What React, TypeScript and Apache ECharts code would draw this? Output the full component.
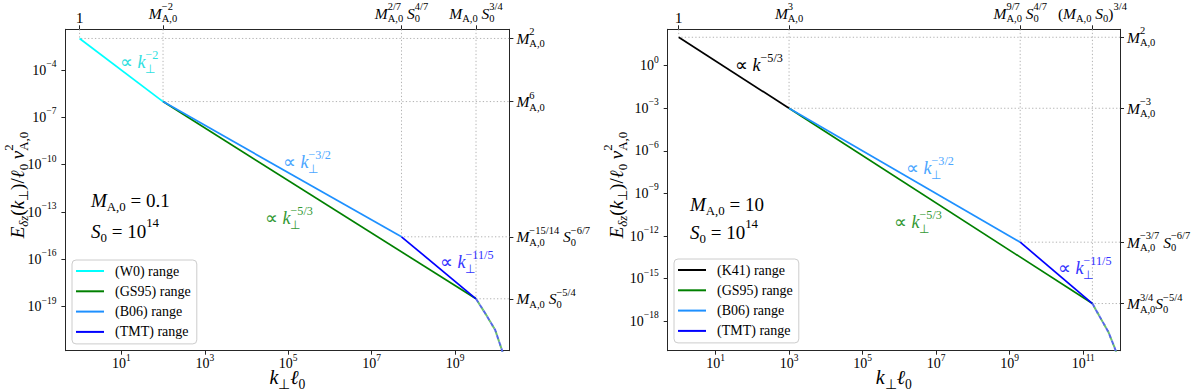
import React, { useEffect, useRef } from "react";
import * as echarts from "echarts";

const FONT = "Liberation Serif";
const AXIS_COLOR = "#262626";

// ---------------- data: log10(k⊥ℓ0), log10(E) ----------------
// Left panel: M_A,0 = 0.1, S0 = 1e14
const leftW0 = [[0, -2], [2, -6]];
const leftGS95 = [[2, -6], [9.5, -18.5]];
const leftB06 = [[2, -6], [7.714, -14.571]];
const leftTMT = [[7.714, -14.571], [9.5, -18.5]];
const leftCutoff = [[9.5, -18.5], [9.72, -19.42], [9.96, -20.48], [10.12, -21.74], [10.15, -22.05]];
const leftBreakK = [0, 2, 7.714, 9.5];
const leftBreakE = [-2, -6, -14.571, -18.5];

// Right panel: M_A,0 = 10, S0 = 1e14
const rightK41 = [[0, 2], [3, -3]];
const rightGS95 = [[3, -3], [11.25, -16.75]];
const rightB06 = [[3, -3], [9.286, -12.429]];
const rightTMT = [[9.286, -12.429], [11.25, -16.75]];
const rightCutoff = [[11.25, -16.75], [11.45, -17.68], [11.68, -18.73], [11.86, -19.9], [11.91, -20.3]];
const rightBreakK = [0, 3, 9.286, 11.25];
const rightBreakE = [2, -3, -12.429, -16.75];

// tick exponents
const leftXTicks = [1, 3, 5, 7, 9];
const leftYTicks = [-4, -7, -10, -13, -16, -19];
const rightXTicks = [1, 3, 5, 7, 9, 11];
const rightYTicks = [0, -3, -6, -9, -12, -15, -18];

const leftXRange = [-0.34, 10.3];
const leftYRange = [-21.79, -1.42];
const rightXRange = [-0.3, 12.0];
const rightYRange = [-20.07, 2.56];

type Tok = [string, string];

// tick labels at the break points (top and right axes)
const leftTopLabels: Tok[][] = [
  [["r", "1"]],
  [["i", "M"], ["spz", "−2"], ["sb", "A,0"]],
  [["i", "M"], ["spz", "2/7"], ["sb", "A,0"], ["i", " S"], ["sbz", "0"], ["sp", "4/7"]],
  [["i", "M"], ["sb", "A,0"], ["i", " S"], ["sbz", "0"], ["sp", "3/4"]],
];
const leftRightLabels: Tok[][] = [
  [["i", "M"], ["spz", "2"], ["sb", "A,0"]],
  [["i", "M"], ["spz", "6"], ["sb", "A,0"]],
  [["i", "M"], ["sbz", "A,0"], ["sp", "−15/14"], ["i", " S"], ["sbz", "0"], ["sp", "−6/7"]],
  [["i", "M"], ["sb", "A,0"], ["i", " S"], ["sbz", "0"], ["sp", "−5/4"]],
];
const rightTopLabels: Tok[][] = [
  [["r", "1"]],
  [["i", "M"], ["spz", "3"], ["sb", "A,0"]],
  [["i", "M"], ["spz", "9/7"], ["sb", "A,0"], ["i", " S"], ["sbz", "0"], ["sp", "4/7"]],
  [["r", "("], ["i", "M"], ["sb", "A,0"], ["i", " S"], ["sb", "0"], ["r", ")"], ["sp", "3/4"]],
];
const rightRightLabels: Tok[][] = [
  [["i", "M"], ["spz", "2"], ["sb", "A,0"]],
  [["i", "M"], ["spz", "−3"], ["sb", "A,0"]],
  [["i", "M"], ["sbz", "A,0"], ["sp", "−3/7"], ["i", " S"], ["sbz", "0"], ["sp", "−6/7"]],
  [["i", "M"], ["spz", "3/4"], ["sb", "A,0"], ["i", "S"], ["sbz", "0"], ["sp", "−5/4"]],
];

const leftNames = ["(W0) range", "(GS95) range", "(B06) range", "(TMT) range"];
const rightNames = ["(K41) range", "(GS95) range", "(B06) range", "(TMT) range"];

const C_W0 = "#00ffff";
const C_GS = "#008000";
const C_B06 = "#1e90ff";
const C_TMT = "#0000ff";
const C_K41 = "#000000";

// ---------------- layout ----------------
const GL = { left: 65.4, top: 29.3, width: 444, height: 321.4 };
const GR = { left: 667.7, top: 29.3, width: 452.3, height: 321.4 };

function toRich(tokens: Tok[]) {
  return tokens.map(([s, t]) => `{${s}|${t}}`).join("");
}

function richSet(size: number, color: string) {
  const small = Math.round(size * 0.68 * 10) / 10;
  const up = Math.round(size * 0.84);
  const dn = Math.round(size * 0.72);
  const base: any = { fontFamily: FONT, color, fill: color, align: "left" };
  const it: any = { ...base, fontStyle: "italic" };
  return {
    r: { ...base, fontSize: size },
    i: { ...it, fontSize: size },
    sb: { ...base, fontSize: small, padding: [dn, 0, 0, 0] },
    sbi: { ...it, fontSize: small, padding: [dn, 0, 0, 0] },
    sbz: { ...base, fontSize: small, padding: [dn, 0, 0, 0], width: 0 },
    sp: { ...base, fontSize: small, padding: [0, 0, up, 0] },
    spz: { ...base, fontSize: small, padding: [0, 0, up, 0], width: 0 },
  };
}

function pow10(v: number): Tok[] {
  const r = Math.round(v);
  const s = r < 0 ? "−" + Math.abs(r) : String(r);
  return [["r", "10"], ["sp", s]];
}

function lookup(vals: number[], labels: Tok[][]) {
  return (v: number) => {
    let best = 0;
    for (let i = 0; i < vals.length; i++) {
      if (Math.abs(vals[i] - v) < Math.abs(vals[best] - v)) best = i;
    }
    return toRich(labels[best]);
  };
}

function axisBase(extra: any) {
  return {
    type: "value",
    axisLine: { show: true, onZero: false, lineStyle: { color: AXIS_COLOR, width: 1 } },
    splitLine: { show: false },
    ...extra,
  };
}

function makeAxes(
  g: number,
  xr: number[],
  yr: number[],
  xTicks: number[],
  yTicks: number[],
  bk: number[],
  be: number[],
  topLabels: Tok[][],
  rightLabels: Tok[][]
) {
  const tick = (vals: number[]) => ({
    show: true,
    inside: false,
    length: 4,
    customValues: vals,
    lineStyle: { color: AXIS_COLOR, width: 1 },
  });
  const lbl = (vals: number[], margin: number, formatter: any, size: number) => ({
    show: true,
    customValues: vals,
    margin,
    formatter,
    fontFamily: FONT,
    fontSize: size,
    rich: richSet(size, "#000"),
  });
  const xAxes = [
    axisBase({
      gridIndex: g,
      position: "bottom",
      min: xr[0],
      max: xr[1],
      axisTick: tick(xTicks),
      axisLabel: lbl(xTicks, 2, (v: number) => toRich(pow10(v)), 14),
    }),
    axisBase({
      gridIndex: g,
      position: "top",
      min: xr[0],
      max: xr[1],
      axisTick: tick(bk),
      axisLabel: lbl(bk, 4, lookup(bk, topLabels), 15.5),
    }),
  ];
  const yAxes = [
    axisBase({
      gridIndex: g,
      position: "left",
      min: yr[0],
      max: yr[1],
      axisTick: tick(yTicks),
      axisLabel: lbl(yTicks, 9, (v: number) => toRich(pow10(v)), 14),
    }),
    axisBase({
      gridIndex: g,
      position: "right",
      min: yr[0],
      max: yr[1],
      axisTick: tick(be),
      axisLabel: lbl(be, 7, lookup(be, rightLabels), 15.5),
    }),
  ];
  return { xAxes, yAxes };
}

function line(name: string, data: number[][], color: string, g: number, extra: any = {}) {
  return {
    type: "line",
    name,
    data,
    xAxisIndex: g * 2,
    yAxisIndex: g * 2,
    symbol: "none",
    silent: true,
    z: 3,
    lineStyle: { color, width: 1.7 },
    itemStyle: { color },
    ...extra,
  };
}

function refLines(ks: number[], es: number[], xr: number[], yr: number[], g: number) {
  return ks.map((k, i) =>
    line(`ref-${g}-${i}`, [[k, yr[1]], [k, es[i]], [xr[1], es[i]]], "#b3b3b3", g, {
      z: 1,
      lineStyle: { color: "#b3b3b3", width: 1, type: [1.3, 2.2] },
    })
  );
}

function cutoff(data: number[][], g: number) {
  return [
    line(`cut-g-${g}`, data, "#6cbf6c", g, {
      z: 4,
      lineStyle: { color: "#6cbf6c", width: 2, type: [4, 3], dashOffset: 3.5 },
    }),
    line(`cut-b-${g}`, data, "#5668e8", g, {
      z: 5,
      lineStyle: { color: "#5668e8", width: 2, type: [4, 3] },
    }),
  ];
}

function txt(x: number, y: number, tokens: Tok[], size: number, color: string, align = "left", rotation = 0) {
  return {
    type: "text",
    x,
    y,
    rotation,
    silent: true,
    z: 10,
    style: {
      text: toRich(tokens),
      rich: richSet(size, color),
      fill: color,
      fontFamily: FONT,
      fontSize: size,
      align,
      verticalAlign: "middle",
    },
  };
}

const prop = (p: string): Tok[] => [["r", "∝ "], ["i", "k"], ["sbz", "⊥"], ["sp", p]];
const yTitle: Tok[] = [
  ["i", "E"], ["sbi", "δz"], ["r", "("], ["i", "k"], ["sb", "⊥"], ["r", ")/"], ["i", "ℓ"], ["sb", "0"],
  ["r", " "], ["i", "v"], ["spz", "2"], ["sb", "A,0"],
];
const xTitle: Tok[] = [["i", "k"], ["sb", "⊥"], ["i", "ℓ"], ["sb", "0"]];

function legend(names: string[], left: number, top: number) {
  return {
    data: names,
    left,
    top,
    orient: "vertical",
    selectedMode: false,
    icon: "rect",
    itemWidth: 28,
    itemHeight: 2,
    itemGap: 4.3,
    padding: [3, 6, 4, 4],
    borderColor: "#cccccc",
    borderWidth: 1,
    borderRadius: 4,
    backgroundColor: "rgba(255,255,255,0.85)",
    textStyle: { fontFamily: FONT, fontSize: 14, color: "#000", padding: [0, 0, 0, 6], lineHeight: 16 },
  };
}

export default function App() {
  const ref = useRef<HTMLDivElement>(null);
  useEffect(() => {
    document.body.style.margin = "0";
    if (!ref.current) return;
    const chart = echarts.init(ref.current, null, { renderer: "svg" });
    const a0 = makeAxes(0, leftXRange, leftYRange, leftXTicks, leftYTicks, leftBreakK, leftBreakE, leftTopLabels, leftRightLabels);
    const a1 = makeAxes(1, rightXRange, rightYRange, rightXTicks, rightYTicks, rightBreakK, rightBreakE, rightTopLabels, rightRightLabels);
    const gridCommon = { containLabel: false, outerBoundsMode: "none", show: false };
    const option: any = {
      animation: false,
      textStyle: { fontFamily: FONT },
      grid: [
        { ...gridCommon, left: GL.left, top: GL.top, width: GL.width, height: GL.height },
        { ...gridCommon, left: GR.left, top: GR.top, width: GR.width, height: GR.height },
      ],
      xAxis: [...a0.xAxes, ...a1.xAxes],
      yAxis: [...a0.yAxes, ...a1.yAxes],
      legend: [legend(leftNames, 72, 260), legend(rightNames, 674, 259)],
      series: [
        ...refLines(leftBreakK, leftBreakE, leftXRange, leftYRange, 0),
        line(leftNames[0], leftW0, C_W0, 0),
        line(leftNames[1], leftGS95, C_GS, 0),
        line(leftNames[2], leftB06, C_B06, 0),
        line(leftNames[3], leftTMT, C_TMT, 0),
        ...cutoff(leftCutoff, 0),
        ...refLines(rightBreakK, rightBreakE, rightXRange, rightYRange, 1),
        line(rightNames[0], rightK41, C_K41, 1),
        line(rightNames[1], rightGS95, C_GS, 1),
        line(rightNames[2], rightB06, C_B06, 1),
        line(rightNames[3], rightTMT, C_TMT, 1),
        ...cutoff(rightCutoff, 1),
      ],
      graphic: {
        elements: [
          // axis titles
          txt(17, 185, yTitle, 19, "#000", "center", Math.PI / 2),
          txt(616, 185, yTitle, 19, "#000", "center", Math.PI / 2),
          txt(GL.left + GL.width / 2, 377, xTitle, 20, "#000", "center"),
          txt(GR.left + GR.width / 2, 377, xTitle, 20, "#000", "center"),
          // left annotations
          txt(120, 62, prop("−2"), 18, "#2ee0e0"),
          txt(283, 162, prop("−3/2"), 18, "#4ba6ff"),
          txt(265, 218, prop("−5/3"), 18, "#339933"),
          txt(440, 262, prop("−11/5"), 18, "#3333ff"),
          txt(91, 200, [["i", "M"], ["sb", "A,0"], ["r", " = 0.1"]], 19, "#000"),
          txt(91, 231, [["i", "S"], ["sb", "0"], ["r", " = 10"], ["sp", "14"]], 19, "#000"),
          // right annotations
          txt(735, 65, [["r", "∝ "], ["i", "k"], ["sp", "−5/3"]], 18, "#000"),
          txt(906, 168, prop("−3/2"), 18, "#4ba6ff"),
          txt(894, 222, prop("−5/3"), 18, "#339933"),
          txt(1058, 268, prop("−11/5"), 18, "#3333ff"),
          txt(690, 204, [["i", "M"], ["sb", "A,0"], ["r", " = 10"]], 19, "#000"),
          txt(690, 232, [["i", "S"], ["sb", "0"], ["r", " = 10"], ["sp", "14"]], 19, "#000"),
        ],
      },
    };
    chart.setOption(option);
    return () => chart.dispose();
  }, []);
  return <div ref={ref} style={{ width: 1200, height: 391 }} />;
}
